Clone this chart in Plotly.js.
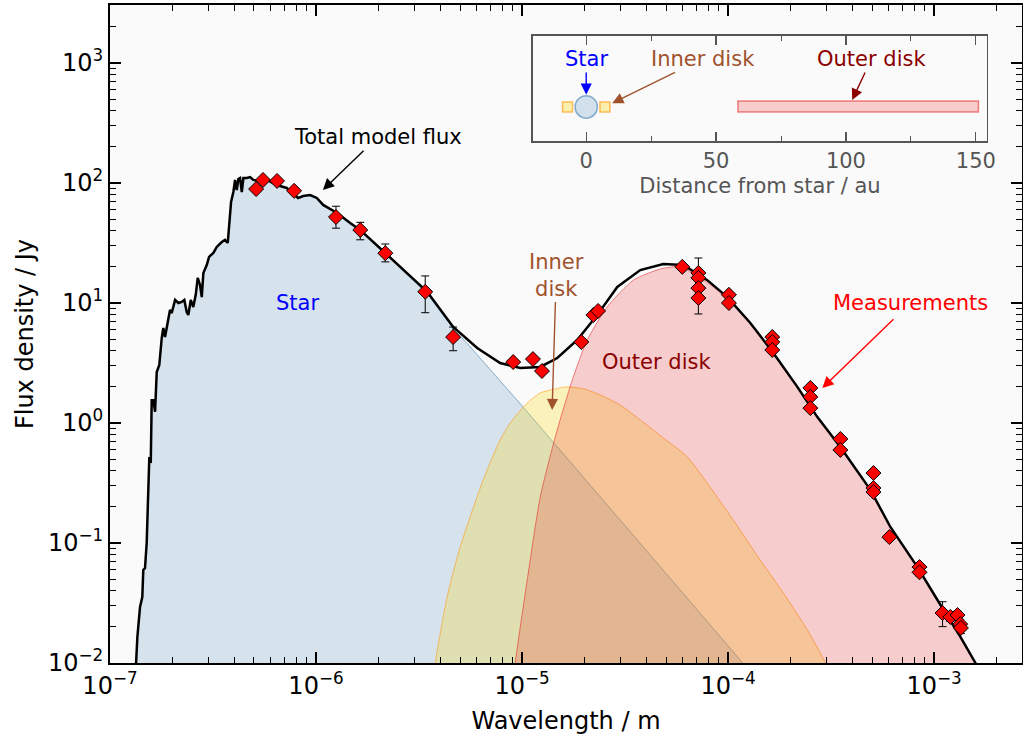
<!DOCTYPE html>
<html>
<head>
<meta charset="utf-8">
<script src="https://cdn.plot.ly/plotly-3.0.1.min.js"></script>
<style>
  html, body { margin: 0; padding: 0; background: #ffffff; }
  #chart { width: 1023px; height: 736px; }
</style>
</head>
<body>
<div id="chart"></div>
<script>
// ---- Spectral energy distribution: model components (wavelength in m, flux density in Jy) ----

// Stellar photosphere, UV/optical part with absorption structure
const starShortWl = [1.33e-7, 1.337e-7, 1.358e-7, 1.399e-7, 1.435e-7, 1.451e-7, 1.479e-7, 1.507e-7, 1.524e-7, 1.535e-7,
  1.552e-7, 1.577e-7, 1.594e-7, 1.623e-7, 1.655e-7, 1.686e-7, 1.735e-7, 1.783e-7, 1.815e-7, 1.850e-7,
  1.885e-7, 1.955e-7, 1.994e-7, 2.070e-7, 2.147e-7, 2.229e-7, 2.295e-7, 2.357e-7, 2.400e-7, 2.466e-7,
  2.536e-7, 2.607e-7, 2.666e-7, 2.736e-7, 2.789e-7, 2.839e-7, 2.949e-7, 3.026e-7, 3.175e-7, 3.298e-7,
  3.487e-7, 3.618e-7, 3.729e-7, 3.784e-7, 3.870e-7, 3.970e-7, 4.047e-7, 4.124e-7, 4.199e-7, 4.280e-7,
  4.362e-7, 4.441e-7, 4.613e-7, 4.786e-7, 4.966e-7, 5.234e-7, 5.66e-7, 6.45e-7, 7.21e-7, 8.19e-7,
  8.66e-7, 9.36e-7, 1.009e-6, 1.083e-6, 1.266e-6, 1.465e-6, 1.637e-6];
const starShortFlux = [0.008, 0.010, 0.0165, 0.0293, 0.0355, 0.0596, 0.0619, 0.100, 0.165, 0.316,
  0.521, 0.464, 1.55, 1.55, 1.24, 2.66, 3.04, 5.11, 6.19, 5.21,
  6.19, 8.74, 8.25, 10.6, 10.0, 10.2, 10.6, 8.41, 7.94, 10.6,
  9.26, 11.7, 16.2, 14.1, 11.2, 17.8, 20.7, 24.2, 26.1, 29.3,
  32.2, 33.5, 31.6, 44.7, 69.5, 84.1, 106, 87.4, 108, 110,
  84.1, 110, 110, 112, 106, 104, 108, 96.2, 90.9, 75.0,
  77.9, 79.4, 75.0, 65.6, 56.2, 46.4, 40.6];

// Stellar photosphere, infrared Rayleigh-Jeans tail
const starTailWl   = [2.167e-6, 3.465e-6, 4.634e-6, 5.42e-6, 1.0e-5, 1.32e-5, 2.0e-5, 5.0e-5, 1.0e-4, 1.3e-4];
const starTailFlux = [26.0, 11.9, 6.1, 4.6, 1.39, 0.80, 0.348, 0.0557, 0.0139, 0.0082];

// Warm inner disk
const innerWl   = [3.6e-6, 3.79e-6, 4.33e-6, 5.01e-6, 6.48e-6, 7.83e-6, 8.77e-6, 1.036e-5, 1.226e-5, 1.533e-5,
  1.658e-5, 2.0e-5, 2.40e-5, 3.0e-5, 3.75e-5, 4.85e-5, 6.34e-5, 1.061e-4, 1.40e-4, 1.857e-4,
  2.43e-4, 2.97e-4, 3.1e-4];
const innerFlux = [0.005, 0.010, 0.0355, 0.0926, 0.335, 0.722, 1.0, 1.41, 1.78, 1.96,
  2.0, 1.92, 1.71, 1.41, 1.06, 0.75, 0.521, 0.155, 0.0764, 0.0383,
  0.0188, 0.010, 0.008];

// Cold outer disk
const outerWl   = [8.8e-6, 9.27e-6, 1.06e-5, 1.226e-5, 1.45e-5, 1.753e-5, 2.074e-5, 2.59e-5, 3.47e-5, 4.69e-5,
  5.87e-5, 7.93e-5, 9.92e-5, 1.283e-4, 1.66e-4, 2.17e-4, 2.715e-4, 3.51e-4, 4.91e-4, 6.14e-4,
  8.31e-4, 1.039e-3, 1.343e-3, 1.589e-3, 1.68e-3];
const outerFlux = [0.004, 0.010, 0.0492, 0.242, 0.765, 2.28, 4.92, 9.26, 15.5, 19.2,
  20.0, 14.8, 10.9, 6.7, 3.77, 1.97, 1.11, 0.625, 0.275, 0.135,
  0.0628, 0.0334, 0.0164, 0.0099, 0.0079];

// Total model (infrared part; at shorter wavelengths it equals the photosphere)
const totalWl   = [2.167e-6, 3.465e-6, 4.634e-6, 6.06e-6, 7.83e-6, 9.80e-6, 1.226e-5, 1.483e-5, 1.854e-5, 2.318e-5,
  2.90e-5, 3.75e-5, 4.85e-5, 6.07e-5, 7.93e-5, 9.92e-5, 1.283e-4, 1.66e-4, 2.17e-4, 2.715e-4,
  3.51e-4, 4.91e-4, 6.14e-4, 8.31e-4, 1.039e-3, 1.343e-3, 1.589e-3, 1.68e-3];
const totalFlux = [26.1, 12.4, 6.31, 4.22, 3.16, 2.87, 2.93, 3.48, 4.92, 7.94,
  13.6, 18.8, 21.1, 20.7, 15.5, 11.2, 6.81, 3.83, 2.0, 1.12,
  0.631, 0.277, 0.136, 0.063, 0.0335, 0.0165, 0.010, 0.008];

// Photometric measurements with uncertainties (Jy; 0 = no bar)
const measWl   = [5.12e-7, 5.53e-7, 6.47e-7, 7.83e-7, 1.25e-6, 1.64e-6, 2.17e-6, 3.39e-6, 4.63e-6,
  9.06e-6, 1.13e-5, 1.25e-5, 1.94e-5, 2.22e-5, 2.34e-5,
  6.0e-5, 7.18e-5, 7.18e-5, 7.18e-5, 7.18e-5, 1.01e-4, 1.01e-4,
  1.64e-4, 1.64e-4, 1.64e-4, 2.51e-4, 2.51e-4, 2.51e-4, 3.51e-4, 3.51e-4,
  5.08e-4, 5.08e-4, 5.08e-4, 6.07e-4, 8.5e-4, 8.5e-4,
  1.10e-3, 1.20e-3, 1.30e-3, 1.34e-3, 1.35e-3];
const measFlux = [89, 106, 104, 86, 52, 40.6, 26, 12.4, 5.2,
  3.22, 3.41, 2.71, 4.73, 7.94, 8.58,
  20, 17.8, 16.2, 13.3, 11.0, 11.7, 10.0,
  5.2, 4.73, 4.06, 1.96, 1.65, 1.33, 0.736, 0.596,
  0.383, 0.287, 0.266, 0.112, 0.063, 0.057,
  0.0261, 0.0242, 0.0251, 0.0211, 0.0196];
const measErrHi = [0, 0, 0, 0, 12, 6.4, 5, 4.4, 1.1,
  0, 0, 0, 0, 0, 0,
  0, 0, 0, 10.4, 0, 0, 0,
  0, 0.25, 0, 0, 0, 0.08, 0, 0.04,
  0, 0.02, 0, 0.007, 0.004, 0.004,
  0.0063, 0.002, 0.002, 0.002, 0.002];
const measErrLo = [0, 0, 0, 0, 10, 7, 4, 4.1, 1.2,
  0, 0, 0, 0, 0, 0,
  0, 0, 0, 5.2, 0, 0, 0,
  0, 0.25, 0, 0, 0, 0.08, 0, 0.04,
  0, 0.02, 0, 0.007, 0.004, 0.004,
  0.006, 0.002, 0.002, 0.002, 0.002];

// Decade tick labels
const wlTickVals  = [1e-7, 1e-6, 1e-5, 1e-4, 1e-3];
const wlTickText  = ['10<sup>−7</sup>', '10<sup>−6</sup>', '10<sup>−5</sup>', '10<sup>−4</sup>', '10<sup>−3</sup>'];
const fluxTickVals = [1e-2, 1e-1, 1, 10, 100, 1000];
const fluxTickText = ['10<sup>−2</sup>', '10<sup>−1</sup>', '10<sup>0</sup>', '10<sup>1</sup>', '10<sup>2</sup>', '10<sup>3</sup>'];

// Geometry of the system sketch (au)
const starRadiusAu = 4.3;
const innerDiskAu  = [-7.2, 7.2];
const outerDiskAu  = [58.4, 151];
const sketchTicks  = [0, 50, 100, 150];

// ---- helpers ----
const FLOOR = 1e-3;   // closes filled areas below the visible flux range
function area(wl, flux) {
  return {
    x: wl.concat([wl[wl.length - 1], wl[0]]),
    y: flux.concat([FLOOR, FLOOR])
  };
}
// minor ticks at 2..9 times each decade inside [lo, hi] (log10 limits)
function minorLogTicks(lo, hi) {
  const out = [];
  for (let d = Math.floor(lo); d <= Math.ceil(hi); d++) {
    for (let m = 2; m <= 9; m++) {
      const v = m * Math.pow(10, d);
      if (Math.log10(v) >= lo && Math.log10(v) <= hi) out.push(v);
    }
  }
  return out;
}
const lg = Math.log10;
const FONT = 'DejaVu Sans, Verdana, sans-serif';

const starWl = starShortWl.concat(starTailWl);
const starFlux = starShortFlux.concat(starTailFlux);
const starArea = area(starWl, starFlux);
const innerArea = area(innerWl, innerFlux);
const outerArea = area(outerWl, outerFlux);

const traces = [
  {
    x: starArea.x, y: starArea.y, type: 'scatter', mode: 'lines',
    fill: 'toself', fillcolor: 'rgba(70,130,180,0.2)',
    line: { color: 'rgba(70,130,180,0.6)', width: 1 }, hoverinfo: 'skip', showlegend: false
  },
  {
    x: innerArea.x, y: innerArea.y, type: 'scatter', mode: 'lines',
    fill: 'toself', fillcolor: 'rgba(255,215,0,0.25)',
    line: { color: 'rgba(255,150,0,0.55)', width: 1, shape: 'spline', smoothing: 0.6 },
    hoverinfo: 'skip', showlegend: false
  },
  {
    x: outerArea.x, y: outerArea.y, type: 'scatter', mode: 'lines',
    fill: 'toself', fillcolor: 'rgba(230,20,20,0.2)',
    line: { color: 'rgba(230,20,20,0.5)', width: 1, shape: 'spline', smoothing: 0.6 },
    hoverinfo: 'skip', showlegend: false
  },
  {
    x: starShortWl.concat(totalWl), y: starShortFlux.concat(totalFlux),
    type: 'scatter', mode: 'lines', line: { color: 'black', width: 2.5 },
    showlegend: false
  },
  {
    x: measWl, y: measFlux, type: 'scatter', mode: 'markers',
    marker: { symbol: 'diamond', size: 11.5, color: 'red', line: { color: 'black', width: 1 } },
    error_y: { type: 'data', symmetric: false, array: measErrHi, arrayminus: measErrLo,
               color: 'black', thickness: 1, width: 4 },
    showlegend: false
  },
  // system sketch: star
  {
    x: [0], y: [0.324], xaxis: 'x2', yaxis: 'y2', type: 'scatter', mode: 'markers',
    marker: { symbol: 'circle', size: 2 * starRadiusAu * 2.6, color: 'rgba(70,130,180,0.22)',
              line: { color: 'rgba(70,130,180,0.6)', width: 1.5 } },
    hoverinfo: 'skip', showlegend: false
  },
  // system sketch: inner disk cross-section
  {
    x: innerDiskAu, y: [0.324, 0.324], xaxis: 'x2', yaxis: 'y2', type: 'scatter', mode: 'markers',
    marker: { symbol: 'square', size: 10, color: 'rgba(255,215,0,0.3)',
              line: { color: 'rgba(255,150,0,0.6)', width: 1.5 } },
    hoverinfo: 'skip', showlegend: false
  }
];

const annFont = (c) => ({ family: FONT, size: 21, color: c });
const SIENNA = '#a0522d';
const arrow = (c) => ({ showarrow: true, arrowhead: 2, arrowsize: 1.6, arrowwidth: 1.4, arrowcolor: c });

// labelled arrows: (x, y) = arrow tip, (ax, ay) = label centre
const annotations = [
  Object.assign({ x: lg(1.08e-6), y: lg(87.5), ax: lg(1.99e-6), ay: lg(241), axref: 'x', ayref: 'y',
    text: 'Total model flux', font: annFont('black') }, arrow('black')),
  { x: lg(8.1e-7), y: lg(10), text: 'Star', showarrow: false, font: annFont('blue') },
  Object.assign({ x: lg(1.40e-5), y: lg(1.28), ax: lg(1.466e-5), ay: lg(17.1), axref: 'x', ayref: 'y',
    text: 'Inner<br>disk', font: annFont(SIENNA) }, arrow(SIENNA)),
  { x: lg(4.49e-5), y: lg(3.22), text: 'Outer disk', showarrow: false, font: annFont('#8b0000') },
  Object.assign({ x: lg(2.87e-4), y: lg(1.96), ax: lg(7.67e-4), ay: lg(10), axref: 'x', ayref: 'y',
    text: 'Measurements', font: annFont('red'), startstandoff: 4 }, arrow('red')),
  // sketch labels
  Object.assign({ xref: 'x2', yref: 'y2', axref: 'x2', ayref: 'y2', x: 0, y: 0.44, ax: 0, ay: 0.781,
    text: 'Star', font: annFont('blue') }, arrow('blue')),
  Object.assign({ xref: 'x2', yref: 'y2', axref: 'x2', ayref: 'y2', x: 10.0, y: 0.36, ax: 44.8, ay: 0.781,
    text: 'Inner disk', font: annFont(SIENNA) }, arrow(SIENNA)),
  Object.assign({ xref: 'x2', yref: 'y2', axref: 'x2', ayref: 'y2', x: 102.4, y: 0.39, ax: 109.8, ay: 0.781,
    text: 'Outer disk', font: annFont('#8b0000') }, arrow('#8b0000'))
];

const shapes = [
  // white panel behind the system sketch
  { type: 'rect', xref: 'x2 domain', yref: 'y2 domain', x0: 0, x1: 1, y0: 0, y1: 1,
    fillcolor: 'white', line: { width: 0 }, layer: 'below' },
  // outer disk ring
  { type: 'rect', xref: 'x2', yref: 'y2', x0: outerDiskAu[0], x1: outerDiskAu[1], y0: 0.276, y1: 0.381,
    fillcolor: 'rgba(230,20,20,0.2)', line: { color: 'rgba(230,20,20,0.5)', width: 1.5 } }
];

function mainAxis(lo, hi, vals, text) {
  return {
    type: 'log', range: [lo, hi], tickmode: 'array', tickvals: vals, ticktext: text,
    ticks: 'inside', ticklen: 11, tickwidth: 1.5, tickcolor: 'black',
    minor: { ticks: 'inside', ticklen: 6, tickwidth: 1, tickcolor: 'black',
             tickmode: 'array', tickvals: minorLogTicks(lo, hi), showgrid: false },
    showline: true, linecolor: 'black', linewidth: 2, mirror: 'ticks',
    showgrid: false, zeroline: false,
    tickfont: { family: FONT, size: 24, color: 'black' }
  };
}

const layout = {
  width: 1023, height: 736,
  margin: { l: 110, r: 1, t: 5, b: 73 },
  paper_bgcolor: 'white', plot_bgcolor: '#fafafa',
  showlegend: false,
  xaxis: Object.assign(mainAxis(-7, -2.573, wlTickVals, wlTickText), {
    title: { text: 'Wavelength / m', font: { family: FONT, size: 24, color: 'black' }, standoff: 13 }
  }),
  yaxis: Object.assign(mainAxis(-2, 3.483, fluxTickVals, fluxTickText), {
    title: { text: 'Flux density / Jy', font: { family: FONT, size: 24, color: 'black' }, standoff: 8 }
  }),
  xaxis2: {
    domain: [0.4638, 0.9616], anchor: 'y2', range: [-20.5, 154.3],
    tickmode: 'array', tickvals: sketchTicks, ticks: 'inside', ticklen: 9, tickwidth: 1.2, tickcolor: '#555',
    minor: { ticks: 'inside', ticklen: 5, tickwidth: 1, tickcolor: '#555', dtick: 25, tick0: 0, showgrid: false },
    showline: true, linecolor: '#555', linewidth: 1.5, mirror: 'ticks',
    showgrid: false, zeroline: false,
    tickfont: { family: FONT, size: 21, color: '#555' },
    title: { text: 'Distance from star / au', font: { family: FONT, size: 21, color: '#555' }, standoff: 6 }
  },
  yaxis2: {
    domain: [0.7933, 0.9529], anchor: 'x2', range: [0, 1],
    showticklabels: false, ticks: '', showgrid: false, zeroline: false,
    showline: true, linecolor: '#555', linewidth: 1.5, mirror: true
  },
  annotations: annotations,
  shapes: shapes
};

Plotly.newPlot('chart', traces, layout, { displayModeBar: false, staticPlot: true });
</script>
</body>
</html>
